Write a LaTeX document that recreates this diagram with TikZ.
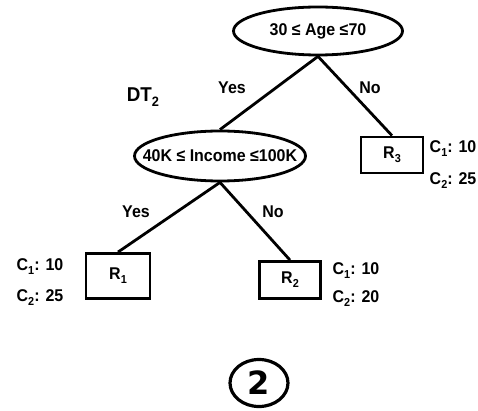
\documentclass[tikz,border=0pt]{standalone}
\usepackage{graphicx}
\usepackage{fontspec}
\setmainfont{Liberation Sans}[BoldFont={Liberation Sans Bold}, FakeStretch=0.94]
\newfontfamily\circfont{DejaVu Sans}[BoldFont={DejaVu Sans Bold}]
\usetikzlibrary{shapes.geometric}
\tikzset{
  lbl/.style={font=\fontsize{17}{19}\selectfont\bfseries, inner sep=0pt},
  cond/.style={ellipse, draw, line width=2.8pt, inner sep=0pt, lbl},
  leaf/.style={rectangle, draw, line width=2.8pt, inner sep=0pt, lbl},
  edge/.style={line width=2.8pt}
}
% condition text whose width does not enlarge the ellipse
\newcommand{\condtext}[1]{\makebox[0pt]{#1}}
% lowered index digit
\newcommand{\idx}[1]{\raisebox{-0.24em}{\scalebox{0.68}{#1}}}
\begin{document}
\begin{tikzpicture}[x=1pt,y=-1pt]
\useasboundingbox (0,0) rectangle (478,411);
% decision nodes
\node[cond, minimum width=169pt, minimum height=48pt] (age) at (318,31) {\condtext{30 ≤ Age ≤70}};
\node[cond, minimum width=171pt, minimum height=50pt] (inc) at (220,156) {\condtext{40K ≤ Income ≤100K}};
% leaves
\node[leaf, minimum width=62pt, minimum height=36pt] (r3) at (392,155) {R\idx{3}};
\node[leaf, minimum width=64pt, minimum height=45pt] (r1) at (118,276) {R\idx{1}};
\node[leaf, minimum width=61pt, minimum height=37pt] (r2) at (290,280) {R\idx{2}};
% branches
\draw[edge] (age.south) -- (inc.north);
\draw[edge] (age.south) -- (r3.north);
\draw[edge] (inc.south) -- (r1.north);
\draw[edge] (inc.south) -- (r2.north);
% branch labels
\node[lbl] (y1) at (232,88) {Yes};
\node[lbl] (n1) at (370,88) {No};
\node[lbl] (y2) at (136,212) {Yes};
\node[lbl] (n2) at (273,212) {No};
\node[lbl, font=\fontsize{20}{22}\selectfont\bfseries] (dt) at (143,97) {DT\idx{2}};
% class counts
\node[lbl] (r3a) at (453,149) {C\idx{1}: 10};
\node[lbl] (r3b) at (453,181) {C\idx{2}: 25};
\node[lbl] (r1a) at (40,267) {C\idx{1}: 10};
\node[lbl] (r1b) at (40,298) {C\idx{2}: 25};
\node[lbl] (r2a) at (356,271) {C\idx{1}: 10};
\node[lbl] (r2b) at (356,299) {C\idx{2}: 20};
% tree number
\node[ellipse, draw, line width=3.2pt, minimum width=58pt, minimum height=47pt, inner sep=0pt,
      font=\circfont\fontsize{32}{34}\selectfont\bfseries] (num) at (259,383) {2};
\end{tikzpicture}
\end{document}
